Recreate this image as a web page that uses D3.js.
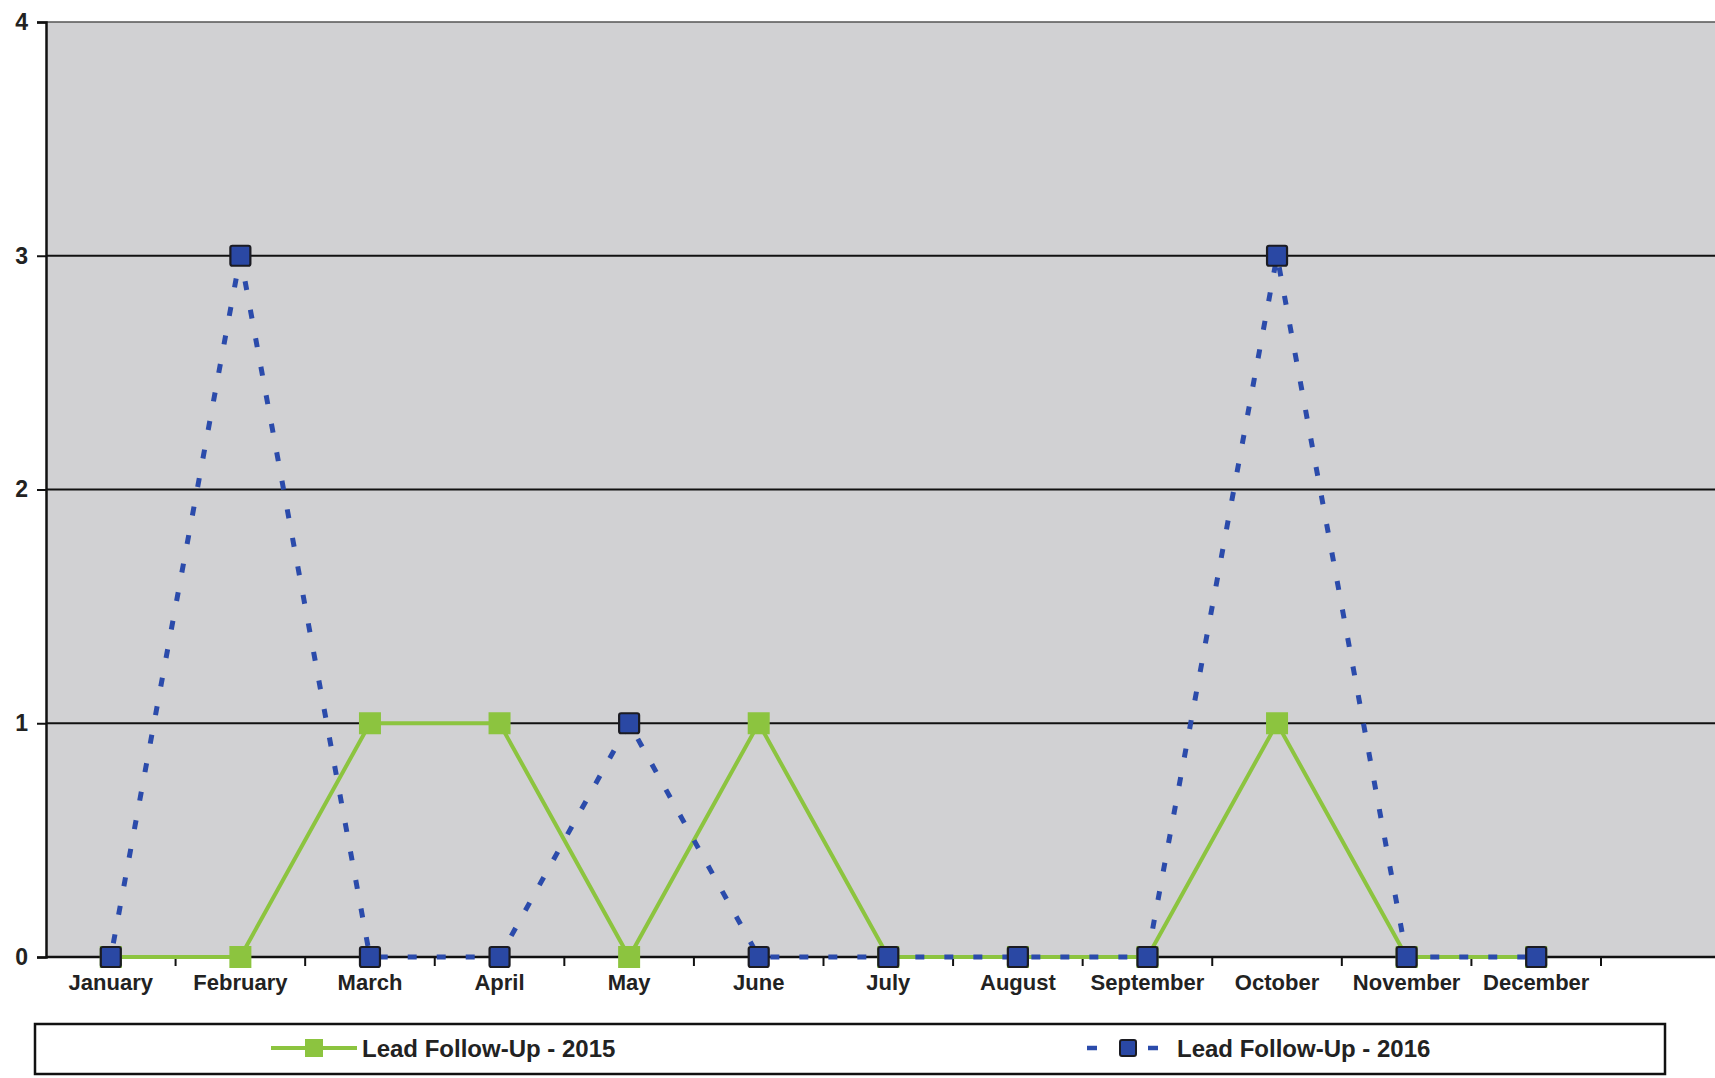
<!DOCTYPE html>
<html>
<head>
<meta charset="utf-8">
<script src="https://cdn.jsdelivr.net/npm/d3@7"></script>
<style>
  html, body { margin: 0; padding: 0; background: #ffffff; }
  svg { display: block; }
  text { font-family: "Liberation Sans", Arial, sans-serif; }
</style>
</head>
<body>
<svg id="chart" width="1715" height="1078"></svg>
<script>
const months = ["January","February","March","April","May","June","July","August","September","October","November","December"];
const series2015 = [0,0,1,1,0,1,0,0,0,1,0,0];
const series2016 = [0,3,0,0,1,0,0,0,0,3,0,0];
const yTicks = [0,1,2,3,4];
const seriesNames = ["Lead Follow-Up - 2015","Lead Follow-Up - 2016"];

(function () {
const svg = d3.select("#chart");
const mLeft = 46, mTop = 22, mBottom = 957, axisRight = 1601, plotRight = 1715;

const x = d3.scaleBand().domain(months).range([mLeft, axisRight]);
const y = d3.scaleLinear().domain([0,4]).range([mBottom, mTop]);

// plot background
svg.append("rect").attr("x", mLeft).attr("y", mTop).attr("width", plotRight - mLeft).attr("height", mBottom - mTop)
  .attr("fill", "#d1d1d3");

// top border
svg.append("line").attr("x1", mLeft).attr("x2", plotRight).attr("y1", y(4)).attr("y2", y(4))
  .attr("stroke", "#555").attr("stroke-width", 1.5);

// gridlines
svg.append("g").selectAll("line").data(yTicks.filter(d => d > 0 && d < 4)).join("line")
  .attr("x1", mLeft).attr("x2", plotRight).attr("y1", d => y(d)).attr("y2", d => y(d))
  .attr("stroke", "#111").attr("stroke-width", 2);

// y axis
const yAxis = d3.axisLeft(y).tickValues(yTicks).tickFormat(d3.format("d")).tickSize(9).tickPadding(9);
const gy = svg.append("g").attr("transform", `translate(${mLeft},0)`).call(yAxis);
gy.select(".domain").attr("stroke", "#111").attr("stroke-width", 2.5);
gy.selectAll(".tick line").attr("stroke", "#111").attr("stroke-width", 2);
gy.selectAll(".tick text").attr("font-size", 23).attr("font-weight", "bold").attr("fill", "#222")
  .attr("font-family", "Liberation Sans, Arial, sans-serif");

// x axis
const xAxis = d3.axisBottom(x).tickSize(0).tickPadding(17);
const gx = svg.append("g").attr("transform", `translate(0,${mBottom})`).call(xAxis);
gx.select(".domain").remove();
gx.selectAll(".tick text").attr("font-size", 22).attr("font-weight", "bold").attr("fill", "#222")
  .attr("font-family", "Liberation Sans, Arial, sans-serif");
svg.append("line").attr("x1", mLeft).attr("x2", plotRight).attr("y1", mBottom).attr("y2", mBottom)
  .attr("stroke", "#111").attr("stroke-width", 2.5);
// boundary ticks
const bounds = months.map(m => x(m)).concat([x(months[11]) + x.bandwidth()]);
svg.append("g").selectAll("line").data(bounds.slice(1)).join("line")
  .attr("x1", d => d).attr("x2", d => d).attr("y1", mBottom).attr("y2", mBottom + 9)
  .attr("stroke", "#111").attr("stroke-width", 2);

const cx = m => x(m) + x.bandwidth() / 2;
const green = "#8cc43f", blue = "#2b4bab", markBlue = "#2a48a4";
const lineGen = d3.line().x((d, i) => cx(months[i])).y(d => y(d));

// green line
svg.append("path").datum(series2015).attr("d", lineGen).attr("fill", "none")
  .attr("stroke", green).attr("stroke-width", 4);
// green markers
const ms = 22;
svg.append("g").selectAll("rect").data(series2015).join("rect")
  .attr("x", (d, i) => cx(months[i]) - ms / 2).attr("y", d => y(d) - ms / 2)
  .attr("width", ms).attr("height", ms).attr("fill", green);

// blue dashed line
svg.append("path").datum(series2016).attr("d", lineGen).attr("fill", "none")
  .attr("stroke", blue).attr("stroke-width", 5).attr("stroke-dasharray", "9,20").attr("stroke-dashoffset", -14);
// blue markers
svg.append("g").selectAll("rect").data(series2016).join("rect")
  .attr("x", (d, i) => cx(months[i]) - (ms - 2) / 2).attr("y", d => y(d) - (ms - 2) / 2)
  .attr("width", ms - 2).attr("height", ms - 2).attr("rx", 2)
  .attr("fill", markBlue).attr("stroke", "#1b1b22").attr("stroke-width", 2.2);

// legend
const lg = svg.append("g");
lg.append("rect").attr("x", 35).attr("y", 1024).attr("width", 1630).attr("height", 50)
  .attr("fill", "#fff").attr("stroke", "#111").attr("stroke-width", 2.5);
const ly = 1048;
lg.append("line").attr("x1", 271).attr("x2", 357).attr("y1", ly).attr("y2", ly)
  .attr("stroke", green).attr("stroke-width", 4);
lg.append("rect").attr("x", 305).attr("y", ly - 9).attr("width", 18).attr("height", 18).attr("fill", green);
lg.append("text").attr("x", 362).attr("y", ly).attr("dy", "0.36em").attr("font-size", 24)
  .attr("font-weight", "bold").attr("fill", "#222").text(seriesNames[0]);
lg.append("line").attr("x1", 1087).attr("x2", 1159).attr("y1", ly).attr("y2", ly)
  .attr("stroke", blue).attr("stroke-width", 4.5).attr("stroke-dasharray", "10,51");
lg.append("rect").attr("x", 1120).attr("y", ly - 8).attr("width", 16).attr("height", 16).attr("rx", 2)
  .attr("fill", markBlue).attr("stroke", "#1b1b22").attr("stroke-width", 2);
lg.append("text").attr("x", 1177).attr("y", ly).attr("dy", "0.36em").attr("font-size", 24)
  .attr("font-weight", "bold").attr("fill", "#222").text(seriesNames[1]);
})();
</script>
</body>
</html>
